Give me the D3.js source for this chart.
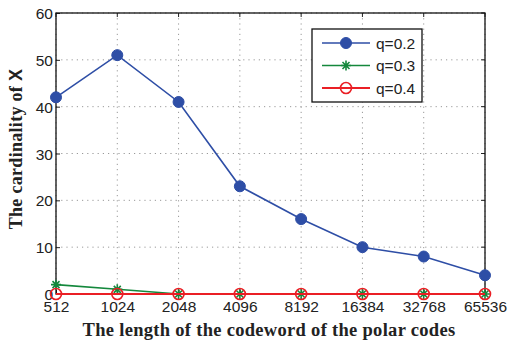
<!DOCTYPE html>
<html>
<head>
<meta charset="utf-8">
<script src="https://cdn.jsdelivr.net/npm/d3@7"></script>
<style>
  html, body { margin: 0; padding: 0; background: #fff; }
  svg { display: block; }
</style>
</head>
<body>
<svg id="chart" width="508" height="348"></svg>
<script>
// Codeword lengths (categorical x positions)
const lengths = ["512", "1024", "2048", "4096", "8192", "16384", "32768", "65536"];
// Cardinality of X for each q
const q02 = [42, 51, 41, 23, 16, 10, 8, 4];
const q03 = [2, 1, 0, 0, 0, 0, 0, 0];
const q04 = [0, 0, 0, 0, 0, 0, 0, 0];
const yTicks = [0, 10, 20, 30, 40, 50, 60];
const seriesNames = ["q=0.2", "q=0.3", "q=0.4"];

const svg = d3.select("#chart");
const m = { left: 56, right: 23, top: 13, bottom: 54 };
const W = 508, H = 348;
const iw = W - m.left - m.right, ih = H - m.top - m.bottom;

const x = d3.scalePoint().domain(lengths).range([0, iw]);
const y = d3.scaleLinear().domain([0, 60]).range([ih, 0]);

const g = svg.append("g").attr("transform", `translate(${m.left},${m.top})`);

// dotted grid
g.append("g").selectAll("line").data(lengths).join("line")
  .attr("x1", d => x(d)).attr("x2", d => x(d)).attr("y1", 0).attr("y2", ih)
  .attr("stroke", "#999").attr("stroke-width", 1).attr("stroke-dasharray", "1.2,4");
g.append("g").selectAll("line").data(yTicks).join("line")
  .attr("x1", 0).attr("x2", iw).attr("y1", d => y(d)).attr("y2", d => y(d))
  .attr("stroke", "#999").attr("stroke-width", 1).attr("stroke-dasharray", "1.2,4");

// axes (ticks pointing inward)
const xAxis = g.append("g").attr("transform", `translate(0,${ih})`)
  .call(d3.axisBottom(x).tickSizeInner(-4).tickSizeOuter(0).tickPadding(8));
const yAxis = g.append("g")
  .call(d3.axisLeft(y).tickValues(yTicks).tickSizeInner(-4).tickSizeOuter(0).tickPadding(3));
[xAxis, yAxis].forEach(a => {
  a.select(".domain").remove();
  a.selectAll("line").attr("stroke", "#222");
  a.selectAll("text").attr("font-family", "Liberation Sans, Arial, sans-serif")
    .attr("font-size", 15.5).attr("fill", "#222");
});
xAxis.selectAll("text").attr("dy", "0.62em");
yAxis.selectAll("text").attr("dy", "0.36em");
// top / right mirrored ticks
g.append("g").selectAll("line").data(lengths).join("line")
  .attr("x1", d => x(d)).attr("x2", d => x(d)).attr("y1", 0).attr("y2", 4).attr("stroke", "#222");
g.append("g").selectAll("line").data(yTicks).join("line")
  .attr("x1", iw).attr("x2", iw - 4).attr("y1", d => y(d)).attr("y2", d => y(d)).attr("stroke", "#222");

// box
g.append("rect").attr("x", 0).attr("y", 0).attr("width", iw).attr("height", ih)
  .attr("fill", "none").attr("stroke", "#111").attr("stroke-width", 1.3);

const colors = ["#2e4ea6", "#14883c", "#ea1f25"];
const data = [q02, q03, q04];
const line = d3.line().x((d, i) => x(lengths[i])).y(d => y(d));

function marker(sel, k, c) {
  if (k === 0) {
    sel.append("circle").attr("r", 5.5).attr("fill", c).attr("stroke", c);
  } else if (k === 1) {
    const s = 5;
    sel.append("path")
      .attr("d", `M${-s},0H${s}M0,${-s}V${s}M${-s*0.7},${-s*0.7}L${s*0.7},${s*0.7}M${-s*0.7},${s*0.7}L${s*0.7},${-s*0.7}`)
      .attr("stroke", c).attr("stroke-width", 1.6).attr("fill", "none");
  } else {
    sel.append("circle").attr("r", 5.5).attr("fill", "none").attr("stroke", c).attr("stroke-width", 1.6);
  }
}

data.forEach((vals, k) => {
  g.append("path").datum(vals).attr("d", line)
    .attr("fill", "none").attr("stroke", colors[k]).attr("stroke-width", k === 2 ? 2.2 : 1.6);
  vals.forEach((v, i) => {
    const mg = g.append("g").attr("transform", `translate(${x(lengths[i])},${y(v)})`);
    marker(mg, k, colors[k]);
  });
});

// legend
const lg = svg.append("g").attr("transform", "translate(312,29)");
lg.append("rect").attr("width", 110).attr("height", 73)
  .attr("fill", "#fff").attr("stroke", "#111").attr("stroke-width", 1.3);
seriesNames.forEach((n, k) => {
  const yy = 14 + k * 22.5;
  lg.append("line").attr("x1", 10).attr("x2", 58).attr("y1", yy).attr("y2", yy)
    .attr("stroke", colors[k]).attr("stroke-width", k === 2 ? 2.2 : 1.6);
  marker(lg.append("g").attr("transform", `translate(34,${yy})`), k, colors[k]);
  lg.append("text").attr("x", 64).attr("y", yy).attr("dy", "0.36em")
    .attr("font-family", "Liberation Sans, Arial, sans-serif").attr("font-size", 15.5)
    .attr("fill", "#222").text(n);
});

// axis titles
svg.append("text").attr("x", 269).attr("y", 336)
  .attr("text-anchor", "middle").attr("font-family", "Liberation Serif, Times New Roman, serif")
  .attr("font-weight", "bold").attr("font-size", 18.5).attr("letter-spacing", 0.3).attr("fill", "#222")
  .text("The length of the codeword of the polar codes");
const yl = svg.append("text").attr("transform", `translate(22,${m.top + 136}) rotate(-90)`)
  .attr("text-anchor", "middle").attr("font-family", "Liberation Serif, Times New Roman, serif")
  .attr("font-weight", "bold").attr("font-size", 18).attr("letter-spacing", 0.3).attr("fill", "#222");
yl.append("tspan").text("The cardinality of  ");
yl.append("tspan").attr("font-family", "Liberation Sans, Arial, sans-serif").attr("font-size", 18).text("X");
</script>
</body>
</html>
